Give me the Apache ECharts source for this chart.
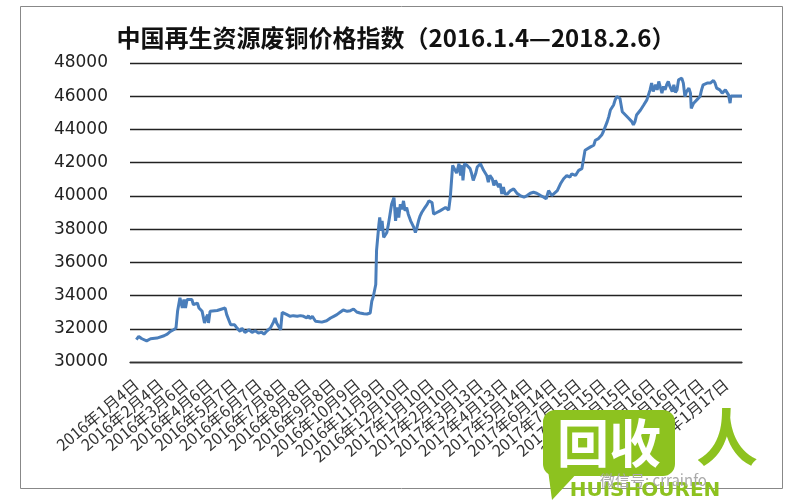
<!DOCTYPE html>
<html><head><meta charset="utf-8">
<script src="https://cdn.jsdelivr.net/npm/echarts@6/dist/echarts.min.js"></script>
<style>html,body{margin:0;padding:0;background:#fff}#c{width:800px;height:500px}</style>
</head><body><div id="c"></div>
<script>
// days since 2016-01-04
const dayOffset = [0,3,7,13,18,26,35,39,43,47,50,52,55,56,58,60,62,64,70,72,77,79,81,83,86,88,90,91,93,102,112,114,119,121,124,127,131,133,137,142,146,150,154,158,161,165,169,173,175,177,182,184,186,190,194,198,203,207,211,215,217,219,222,226,228,234,240,245,249,253,257,261,266,270,274,278,282,287,291,295,297,299,302,303,306,307,309,310,312,314,316,318,320,322,325,327,329,331,333,335,337,339,341,343,346,350,352,354,356,358,360,362,364,367,369,371,373,375,379,383,390,392,394,396,399,401,404,407,409,411,412,414,417,421,423,425,428,430,434,438,442,444,446,449,451,453,455,457,459,461,463,465,468,472,476,480,484,489,493,497,501,505,510,514,517,520,522,524,526,531,535,539,543,547,549,554,558,562,564,566,568,573,577,579,581,583,585,587,589,591,594,596,598,600,602,604,606,608,610,613,617,621,625,627,629,631,636,640,644,646,648,650,652,655,657,659,661,663,665,667,669,671,673,676,678,680,682,684,686,688,690,692,694,697,699,700,703,707,711,713,715,720,724,728,730,732,736,739,741,743,745,747,749,750,753,764];
const price = [31350,31540,31400,31270,31400,31440,31580,31680,31840,31940,32040,33050,33860,33860,33250,33760,33250,33760,33760,33450,33550,33250,33350,33050,32350,32650,32850,32350,33050,33100,33250,32850,32240,32140,32240,32040,31840,32040,31780,31940,31780,31880,31740,31800,31680,31880,32040,32400,32650,32350,31940,32990,32950,32850,32750,32790,32750,32790,32750,32650,32790,32610,32750,32450,32400,32400,32480,32650,32750,32850,32990,33130,33050,33090,33190,33010,32950,32910,32890,32950,33660,33960,34670,36700,38300,38700,37900,38500,37500,37400,37800,38300,38900,39500,39900,38500,39300,38700,39500,39200,39700,39100,39300,38900,38500,38100,37800,38100,38500,38800,39000,38900,39300,39500,39700,39750,39600,38900,39000,39100,39300,39400,39140,39900,41840,41940,41370,41940,41230,41840,40930,41940,41840,41640,41330,40930,41330,41740,41940,41540,41230,40830,41230,41030,40630,40930,40830,40530,40730,40120,40530,40120,40120,40320,40420,40160,40020,39920,40020,40160,40220,40160,40020,39920,39820,40320,40220,40020,39960,40320,40730,41030,41230,41130,41330,41230,41540,41640,41740,42750,42850,42950,43050,43350,43250,43450,43350,43660,43860,43960,44470,44770,45170,45270,45470,45780,45980,45980,45880,45070,44870,44670,44470,44270,44470,44870,45170,45470,45780,46080,46380,46790,46280,46690,46380,46890,46790,46180,46590,46380,46690,46890,46590,46280,46690,46230,46380,46990,46890,47090,46790,45980,46280,46490,46180,45270,45580,45780,45980,46380,46690,46790,46790,46950,46790,46490,46380,46180,46280,46380,46280,46080,45580,46020,46020,46020];
const labelDays = [0,31,62,93,124,155,186,217,248,279,310,341,372,403,434,465,496,527,558,589,620,651,682,713,744];
const titleText = '中国再生资源废铜价格指数（2016.1.4—2018.2.6）';

function dayToLabel(d){
  const dt = new Date(2016, 0, 4 + d);
  return dt.getFullYear() + '年' + (dt.getMonth()+1) + '月' + dt.getDate() + '日';
}
const labelsEven = labelDays.filter((d,i)=>i%2===0);
const labelsOdd = labelDays.filter((d,i)=>i%2===1);

function xAxisDef(vals, showLine){
  return {type:'value', min:-8, max:764, position:'bottom',
    axisLine:{show:showLine, lineStyle:{color:'#333', width:1.3}},
    axisTick:{show:false},
    splitLine:{show:false},
    axisLabel:{customValues:vals, rotate:40, margin:20, fontSize:16,
      showMinLabel:true, showMaxLabel:true, hideOverlap:false,
      fontFamily:'Noto Sans CJK SC', color:'#333', formatter:v=>dayToLabel(v)}
  };
}

const chart = echarts.init(document.getElementById('c'), null, {renderer:'canvas'});
chart.setOption({
  animation:false,
  backgroundColor:'#fff',
  title:{text:titleText, left:391, textAlign:'center', top:21,
    textStyle:{fontFamily:'Noto Sans CJK SC', fontWeight:'bold', fontSize:24, color:'#111'}},
  grid:{left:130, right:58, top:63, bottom:138},
  xAxis:[xAxisDef(labelsEven, true), xAxisDef(labelsOdd, false)],
  yAxis:{type:'value', min:30000, max:48000, interval:2000,
    axisLine:{show:false}, axisTick:{show:false},
    splitLine:{lineStyle:{color:'#222', width:1.3}},
    axisLabel:{fontFamily:'DejaVu Sans', fontSize:17, color:'#222', margin:22, formatter:v=>String(v)}
  },
  series:[{type:'line', xAxisIndex:0, data:dayOffset.map((d,i)=>[d, price[i]]), symbol:'none',
    lineStyle:{color:'#4A7EBB', width:3}}],
  graphic:[
    {type:'rect', left:18, top:4, shape:{width:762, height:482}, style:{fill:'none', stroke:'#888', lineWidth:1}, silent:true},
    {type:'rect', shape:{x:543, y:410, width:132, height:66, r:12}, style:{fill:'#8DC21F'}, z:100},
    {type:'polygon', shape:{points:[[548,470],[580,470],[552,500]]}, style:{fill:'#8DC21F'}, z:100},
    {type:'text', x:609, y:443, style:{text:'回收', font:'bold 52px "Noto Sans CJK SC"', fill:'#fff', align:'center', verticalAlign:'middle'}, z:101},
    {type:'text', x:727, y:437, style:{text:'人', font:'bold 62px "Noto Sans CJK SC"', fill:'#8DC21F', align:'center', verticalAlign:'middle'}, z:101},
    {type:'text', x:600, y:480, style:{text:'微信号: crrainfo', font:'15px "Noto Sans CJK SC"', fill:'#aaa', align:'left', verticalAlign:'middle'}, z:102},
    {type:'text', x:645, y:491, style:{text:'HUISHOUREN', font:'bold 20px "DejaVu Sans"', fill:'#8DC21F', align:'center', verticalAlign:'middle'}, z:101}
  ]
});
</script></body></html>
